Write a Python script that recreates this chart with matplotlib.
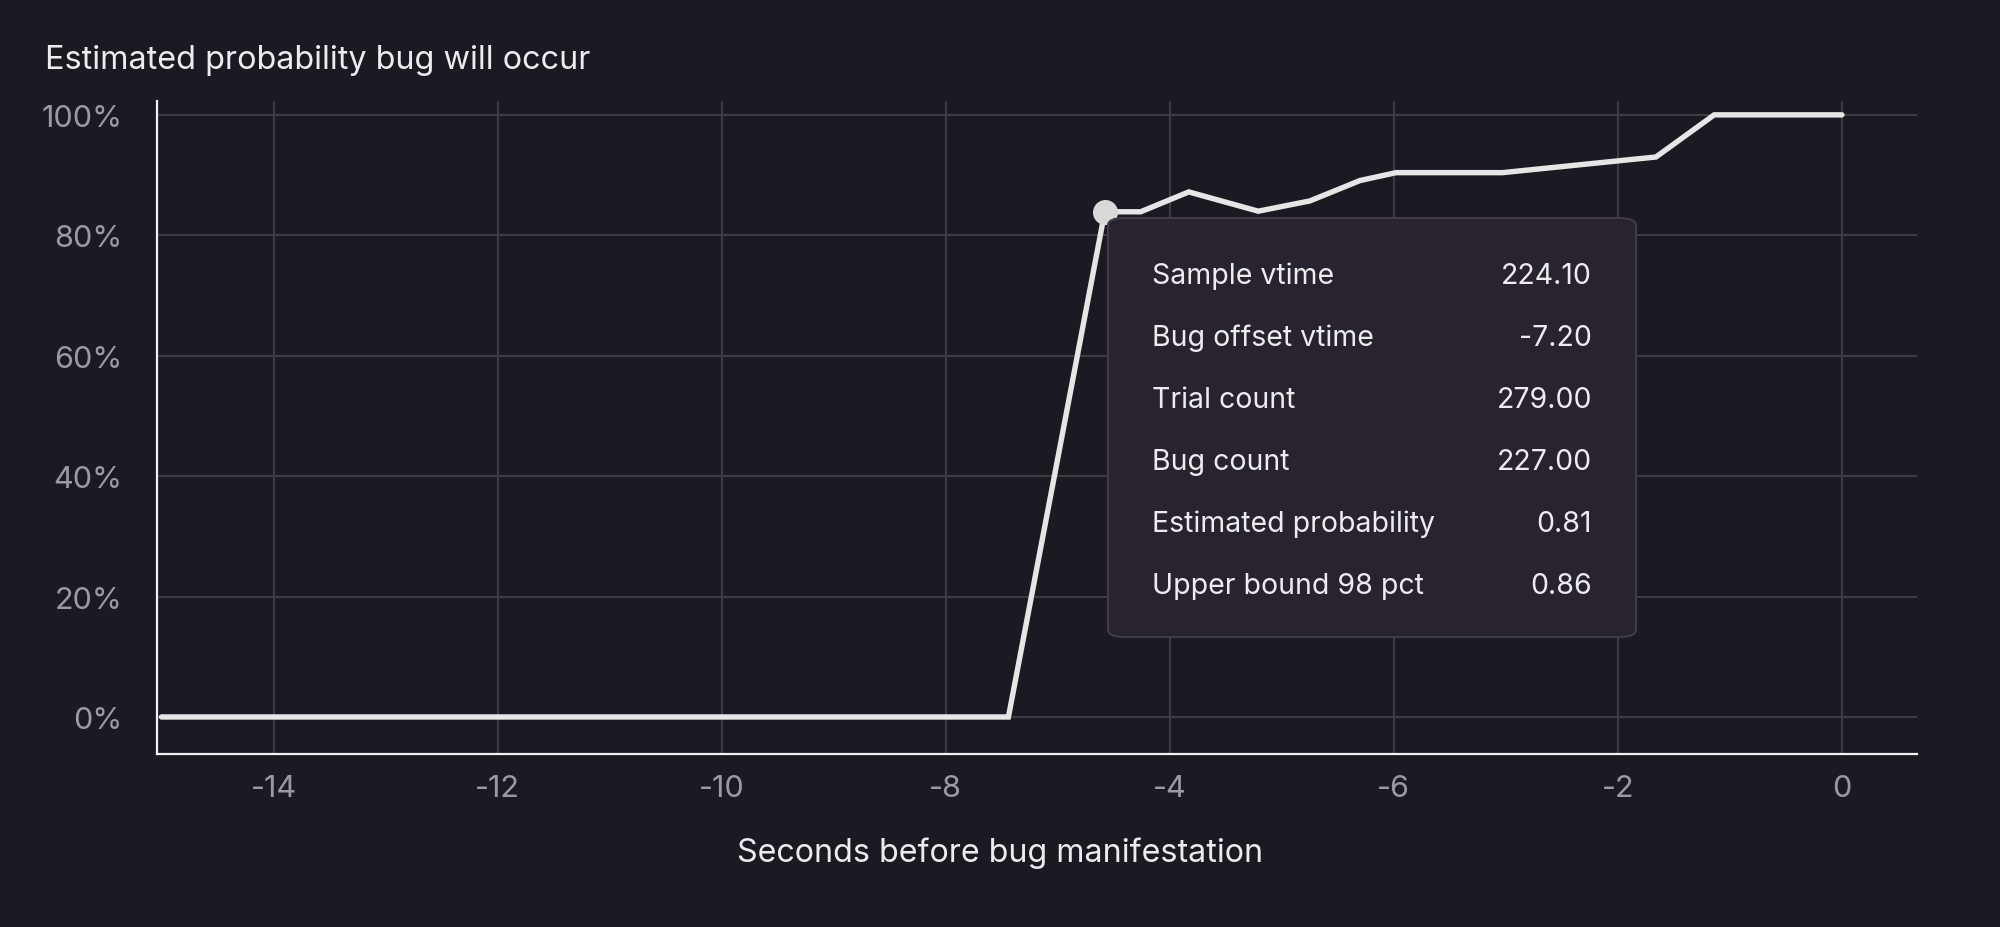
import matplotlib
matplotlib.use("Agg")
import matplotlib.pyplot as plt
from matplotlib.patches import FancyBboxPatch
from matplotlib.ticker import FuncFormatter

plt.rcParams['font.family'] = ['Inter', 'DejaVu Sans']

# ---- data ----
offset_seconds = [-15.0, -7.44, -6.58, -6.26, -5.83, -5.21, -4.75, -4.30, -3.98, -3.03, -1.66, -1.14, 0.0]
probability = [0.0, 0.0, 0.839, 0.839, 0.872, 0.840, 0.857, 0.891, 0.904, 0.904, 0.930, 1.0, 1.0]
highlight_index = 2

x_ticks = [-14, -12, -10, -8, -6, -4, -2, 0]
x_tick_labels = ["-14", "-12", "-10", "-8", "-4", "-6", "-2", "0"]
y_ticks = [0.0, 0.2, 0.4, 0.6, 0.8, 1.0]

tooltip_labels = ["Sample vtime", "Bug offset vtime", "Trial count", "Bug count",
                  "Estimated probability", "Upper bound 98 pct"]
tooltip_values = ["224.10", "-7.20", "279.00", "227.00", "0.81", "0.86"]

title = "Estimated probability bug will occur"
x_label = "Seconds before bug manifestation"

# ---- style ----
BG = "#1b1921"
GRID = "#3d3b44"
LINE = "#e6e6e6"
TICK = "#9b99a1"
TEXT = "#ececef"

W, H = 2000, 928
fig = plt.figure(figsize=(W / 100, H / 100), dpi=100, facecolor=BG)
ax = fig.add_axes([157 / W, 1 - 755 / H, (1917 - 157) / W, (755 - 102) / H])
ax.set_facecolor(BG)

ax.plot(offset_seconds, probability, color=LINE, lw=3.9, solid_capstyle='round',
        solid_joinstyle='miter', zorder=3)
ax.plot([offset_seconds[highlight_index]], [probability[highlight_index]], 'o',
        color="#d9d9d9", ms=17, zorder=4)

ax.set_xlim(-15.04, 0.67)
ax.set_ylim(-0.0615, 1.023)
ax.set_xticks(x_ticks)
ax.set_xticklabels(x_tick_labels)
ax.set_yticks(y_ticks)
ax.yaxis.set_major_formatter(FuncFormatter(lambda v, p: f"{int(round(v * 100))}%"))

ax.grid(True, color=GRID, lw=1.5, zorder=1)
ax.set_axisbelow(True)
ax.tick_params(axis='both', length=0, labelsize=22, colors=TICK)
ax.tick_params(axis='y', pad=25)
ax.tick_params(axis='x', pad=14.5)
for s in ['top', 'right']:
    ax.spines[s].set_visible(False)
for s in ['left', 'bottom']:
    ax.spines[s].set_color("#f2f2f2")
    ax.spines[s].set_linewidth(1.6)

fig.text(0.5, 1 - 853 / H, x_label, fontsize=23.2, color=TEXT, ha='center', va='center')
fig.text(45 / W, 1 - 60 / H, title, fontsize=23.3, color=TEXT, ha='left', va='center')

# ---- tooltip ----
bx0, by0, bx1, by1 = 1108, 219, 1636, 638
box = FancyBboxPatch((bx0 / W, 1 - by1 / H), (bx1 - bx0) / W, (by1 - by0) / H,
                     boxstyle="round,pad=0,rounding_size=0.008",
                     transform=fig.transFigure, facecolor="#28232f",
                     edgecolor="#403c47", lw=1.5, zorder=10)
fig.patches.append(box)
row_y = [276.5, 338.5, 400.5, 462.5, 524.5, 586.5]
for lab, val, yy in zip(tooltip_labels, tooltip_values, row_y):
    fig.text(1152 / W, 1 - yy / H, lab, fontsize=20.5, color=TEXT, ha='left',
             va='center', zorder=11)
    fig.text(1592 / W, 1 - yy / H, val, fontsize=20.5, color=TEXT, ha='right',
             va='center', zorder=11)

fig.savefig("out.png", dpi=100, facecolor=BG)
